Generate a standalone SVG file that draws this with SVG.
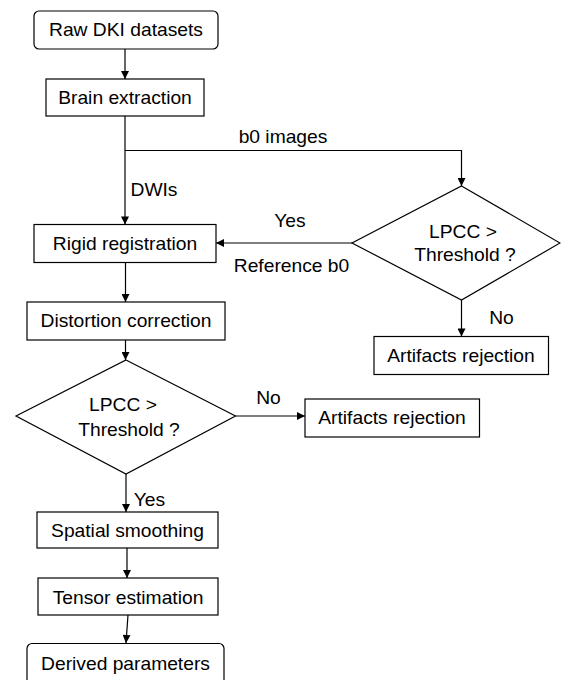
<svg xmlns="http://www.w3.org/2000/svg" width="561" height="680" viewBox="0 0 561 680">
<defs>
<style>
.box{fill:#fff;stroke:#000;stroke-width:1.2}
.con{fill:none;stroke:#000;stroke-width:1.2}
text{font-family:"Liberation Sans",Arial,Helvetica,sans-serif;font-size:17.5px;fill:#000;text-anchor:middle;transform-box:fill-box;transform-origin:center;transform:scaleX(1.1)}
</style>
<marker id="ah" viewBox="0 0 10 10" refX="10" refY="5" markerWidth="9" markerHeight="8" markerUnits="userSpaceOnUse" orient="auto">
<path d="M0,0 L10,5 L0,10 z" fill="#000"/>
</marker>
</defs>
<rect width="561" height="680" fill="#fff"/>
<g id="connectors">
<line class="con" x1="125" y1="49" x2="125" y2="79" marker-end="url(#ah)"/>
<line class="con" x1="125" y1="116" x2="125" y2="224.5" marker-end="url(#ah)"/>
<polyline class="con" points="125,150.5 461.5,150.5 461.5,186" marker-end="url(#ah)"/>
<line class="con" x1="352" y1="243" x2="216" y2="243" marker-end="url(#ah)"/>
<line class="con" x1="461.5" y1="300" x2="461.5" y2="336.5" marker-end="url(#ah)"/>
<line class="con" x1="125.5" y1="262.5" x2="125.5" y2="302" marker-end="url(#ah)"/>
<line class="con" x1="125.5" y1="340" x2="125.5" y2="360" marker-end="url(#ah)"/>
<line class="con" x1="235.5" y1="416" x2="305" y2="416" marker-end="url(#ah)"/>
<line class="con" x1="126" y1="474" x2="126" y2="512" marker-end="url(#ah)"/>
<line class="con" x1="127" y1="548" x2="127" y2="578" marker-end="url(#ah)"/>
<line class="con" x1="128" y1="615" x2="126" y2="643" marker-end="url(#ah)"/>
<text x="283" y="143">b0 images</text>
<text x="154" y="196">DWIs</text>
<text x="290" y="227">Yes</text>
<text x="291.5" y="272">Reference b0</text>
<text x="501.5" y="324">No</text>
<text x="268.5" y="404">No</text>
<text x="149.5" y="506">Yes</text>
</g>
<g id="raw">
<rect class="box" x="34" y="11" width="184" height="38" rx="5"/>
<text x="126" y="36.5">Raw DKI datasets</text>
</g>
<g id="brain">
<rect class="box" x="46" y="79" width="158" height="37"/>
<text x="125" y="104.5">Brain extraction</text>
</g>
<g id="rigid">
<rect class="box" x="34" y="224.5" width="182" height="38"/>
<text x="125" y="250">Rigid registration</text>
</g>
<g id="decision1">
<polygon class="box" points="461.5,186 560,243 461.5,300 352,243"/>
<text x="463" y="238">LPCC &gt;</text>
<text x="465" y="261">Threshold ?</text>
</g>
<g id="reject1">
<rect class="box" x="374" y="336.5" width="174.5" height="38"/>
<text x="461" y="362">Artifacts rejection</text>
</g>
<g id="distortion">
<rect class="box" x="27" y="302" width="198" height="38"/>
<text x="126" y="327.5">Distortion correction</text>
</g>
<g id="decision2">
<polygon class="box" points="126,360 235.5,416 126,474 16,416"/>
<text x="123" y="411.5">LPCC &gt;</text>
<text x="129" y="436.5">Threshold ?</text>
</g>
<g id="reject2">
<rect class="box" x="305" y="399" width="174.5" height="38"/>
<text x="392" y="424.5">Artifacts rejection</text>
</g>
<g id="smoothing">
<rect class="box" x="37" y="512" width="181" height="36"/>
<text x="127.5" y="537">Spatial smoothing</text>
</g>
<g id="tensor">
<rect class="box" x="38" y="578" width="180" height="37"/>
<text x="128" y="604">Tensor estimation</text>
</g>
<g id="derived">
<rect class="box" x="27" y="643.5" width="197" height="42" rx="5"/>
<text x="125.5" y="670">Derived parameters</text>
</g>
</svg>
